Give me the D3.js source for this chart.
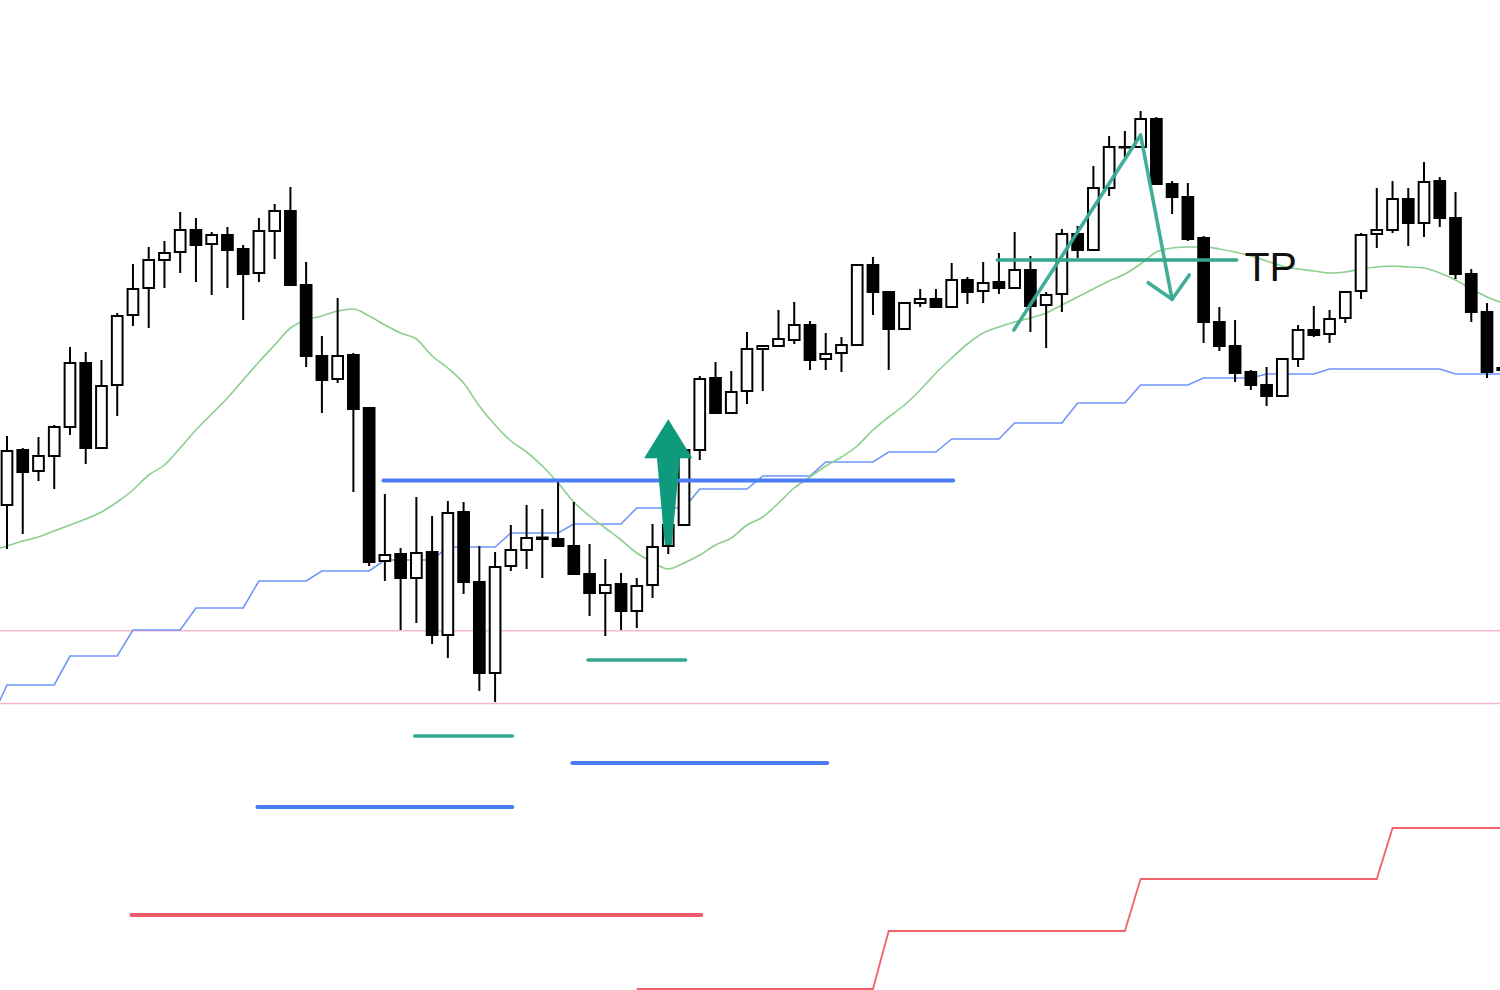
<!DOCTYPE html>
<html><head><meta charset="utf-8">
<script src="https://cdn.jsdelivr.net/npm/d3@7"></script>
<style>html,body{margin:0;padding:0;background:#fff;overflow:hidden}</style>
</head><body>
<svg id="chart" width="1500" height="990"></svg>
<script>
// ---- candle data (index 0..95) ----
const opens = [495,550,529,544,573,637,552,615,685,712,
740,748,770,756,765,751,727,769,789,715,
644,621,645,592,439,446,422,448,365,488,
418,327,434,450,462.5,461,454,426,407,416,
389,415,454,475,550,622,587,609,651,654,
660,675,641,647,655,735,708,671,697,701,
693,720,709,718,712,730,695,706,766,750,
812,853,853,881,816,803,762,678,654,628,
615,604,641,670,666,682,709,766,770,801,
777,819,782,726,688,630];
const highs = [564,552,563,575,653,648,640,687,736,753,
759,788,782,768,773,755,782,796,813,738,
664,702,647,592,506,452,503,484,499,498,
454,448,475,495,491,519,498,456,441,427,
422,476,480,552,624,638,629,668,654,690,
698,679,667,663,736,743,708,698,711,711,
737,723,738,747,768,744,708,771,774,834,
864,869,889,883,819,817,764,693,680,630,
633,641,675,694,690,708,767,812,819,812,
838,823,808,731,697,632];
const lows = [451,466,519,511,565,536,551,584,674,672,
712,727,718,705,712,680,718,741,714,633,
587,617,508,434,419,370,377,356,342,406,
309,298,429,431,422,454,426,384,364,370,
372,402,446,474,540,587,587,596,609,653,
656,630,630,628,655,685,630,670,693,693,
693,696,697,706,712,668,652,688,742,750,
804,843,853,816,786,759,657,649,618,610,
594,603,633,663,657,677,701,752,767,754,
763,773,721,678,622,630];
const closes = [549,528,544,573,637,552,614,684,711,740,
747,770,755,765,750,726,769,789,715,644,
620,644,591,438,445,422,447,365,487,418,
327,433,450,462,461,454,426,407,415,389,
414,453,475,550,621,587,608,651,654,661,
675,640,646,655,735,708,671,697,701,693,
720,708,717,712,730,694,705,766,750,812,
853,853,881,816,803,761,678,654,627,615,
604,641,670,665,681,708,765,770,801,777,
818,782,726,688,628,632];

// ---- moving average (starts at index -1) ----
const maStart = -1;
const maValues = [449,454,459,463,469,475,481,488,498,510,525,
535,552,570,586,602,620,638,655,672,680,
684,689,691,684,675,667,661,644,632,617,
594,575,559,548,534,517,498,484,472,460,
447,438,431,437,445,455,462,475,483,497,
512,523,534,543,554,570,583,595,610,627,
642,656,667,673,678,682,687,695,703,711,
719,726,736,748,752,753,753,751,748,744,
739,734,731,729,727,728,731,733,734,733,
732,727,720,711,703,697];

// ---- trailing step line (starts at index -1) ----
const stepStart = -1;
const stepValues = [281,315,315,315,315,344,344,344,344,370,370,370,370,
392,392,392,392,419,419,419,419,429,429,429,429,
440,440,440,440,453,453,453,453,467,467,467,467,
476,476,476,476,492,492,492,492,511,511,511,511,
524,524,524,524,538,538,538,538,548,548,548,548,
561,561,561,561,577,577,577,577,597,597,597,597,
615,615,615,615,622,622,622,622,626,626,626,626,
631,631,631,631,631,631,631,631,626,626,626,626];

// ---- lower step line (starts at index 40) ----
const lowStepStart = 40;
const lowStepValues = [11,11,11,11,11,11,11,11,11,11,11,11,11,11,11,11,
69,69,69,69,69,69,69,69,69,69,69,69,69,69,69,69,
121,121,121,121,121,121,121,121,121,121,121,121,121,121,121,121,
172,172,172,172,172,172,172,172];

// ---- horizontal levels ----
const pinkLevels = [369.3, 296.5];

// ---- annotation segments: [fromIndex, toIndex, price] ----
const blueSegments = [[23.9, 60.1, 519.5],[35.9, 52.1, 237],[15.9, 32.1, 193]];
const tealSegments = [[25.9, 32.1, 264],[36.9, 43.1, 340],[62.9, 78.1, 740]];
const redSegments = [[7.9, 44.1, 85]];
const zigzag = [[63.95, 670],[72.0, 865],[74.0, 700.7]];
const zigzagHead = [[72.48, 717.3],[74.0, 700.7],[75.09, 725]];
const upArrow = [[42.0, 580.7],[43.53, 541.7],[42.74, 541.7],[42.22, 455],[41.78, 455],[41.28, 541.7],[40.46, 541.7]];
const tpLabel = {text: "TP", index: 78.6, price: 719};

// ---- scales ----
const svg = d3.select("#chart");
const x = d3.scaleLinear().domain([0, 94]).range([7, 1487]);
const y = d3.scaleLinear().domain([0, 1000]).range([1000, 0]);
const step = x(1) - x(0);
const bodyW = step * 0.68;

const clip = svg.append("defs").append("clipPath").attr("id","clip")
  .append("rect").attr("width",1500).attr("height",990);
const g = svg.append("g").attr("clip-path","url(#clip)");

// pink levels
g.selectAll(".lvl").data(pinkLevels).join("line")
  .attr("x1",0).attr("x2",1500).attr("y1",d=>y(d)).attr("y2",d=>y(d))
  .attr("stroke","#f7b7cc").attr("stroke-width",1.6);

const lineFrom = (start)=> d3.line().x((d,i)=>x(start+i)).y(d=>y(d));

g.append("path").datum(lowStepValues).attr("d", lineFrom(lowStepStart))
  .attr("fill","none").attr("stroke","#f2626b").attr("stroke-width",1.8);
g.append("path").datum(stepValues).attr("d", lineFrom(stepStart))
  .attr("fill","none").attr("stroke","#6f95f7").attr("stroke-width",1.6);
g.append("path").datum(maValues).attr("d", lineFrom(maStart).curve(d3.curveMonotoneX))
  .attr("fill","none").attr("stroke","#8bcf8f").attr("stroke-width",1.6);

// candles
const candles = opens.map((o,i)=>({i, o, h:highs[i], l:lows[i], c:closes[i]}));
const cg = g.append("g");
cg.selectAll(".wick").data(candles).join("line")
  .attr("x1",d=>x(d.i)).attr("x2",d=>x(d.i))
  .attr("y1",d=>y(d.h)).attr("y2",d=>y(d.l))
  .attr("stroke","#000").attr("stroke-width",2);
cg.selectAll(".body").data(candles).join("rect")
  .attr("x",d=>x(d.i)-bodyW/2).attr("width",bodyW)
  .attr("y",d=>y(Math.max(d.o,d.c)))
  .attr("height",d=>Math.max(0.5, Math.abs(y(d.o)-y(d.c))))
  .attr("fill",d=>d.c>=d.o ? "#fff" : "#000")
  .attr("stroke","#000").attr("stroke-width",2);

// annotation segments
function segs(data, color, w){
  g.append("g").selectAll("line").data(data).join("line")
    .attr("x1",d=>x(d[0])).attr("x2",d=>x(d[1]))
    .attr("y1",d=>y(d[2])).attr("y2",d=>y(d[2]))
    .attr("stroke",color).attr("stroke-width",w).attr("stroke-linecap","round");
}
segs(blueSegments, "#4a7cf3", 3.8);
segs(redSegments, "#ef5a68", 3.8);
segs(tealSegments, "#33a88d", 3.6);

const pl = d3.line().x(d=>x(d[0])).y(d=>y(d[1]));
g.append("path").datum(zigzag).attr("d",pl).attr("fill","none")
  .attr("stroke","#38aa92").attr("stroke-width",3.6).attr("stroke-linecap","round").attr("stroke-linejoin","round").attr("opacity",0.95);
g.append("path").datum(zigzagHead).attr("d",pl).attr("fill","none")
  .attr("stroke","#38aa92").attr("stroke-width",3.6).attr("stroke-linecap","round").attr("stroke-linejoin","round").attr("opacity",0.95);

g.append("path").datum(upArrow).attr("d", d=>pl(d)+"Z")
  .attr("fill","#0f9a7d");

g.append("text").attr("x",x(tpLabel.index)).attr("y",y(tpLabel.price))
  .attr("font-family","'Liberation Sans', Arial, sans-serif").attr("font-size",41)
  .attr("fill","#111").text(tpLabel.text);
</script>
</body></html>
